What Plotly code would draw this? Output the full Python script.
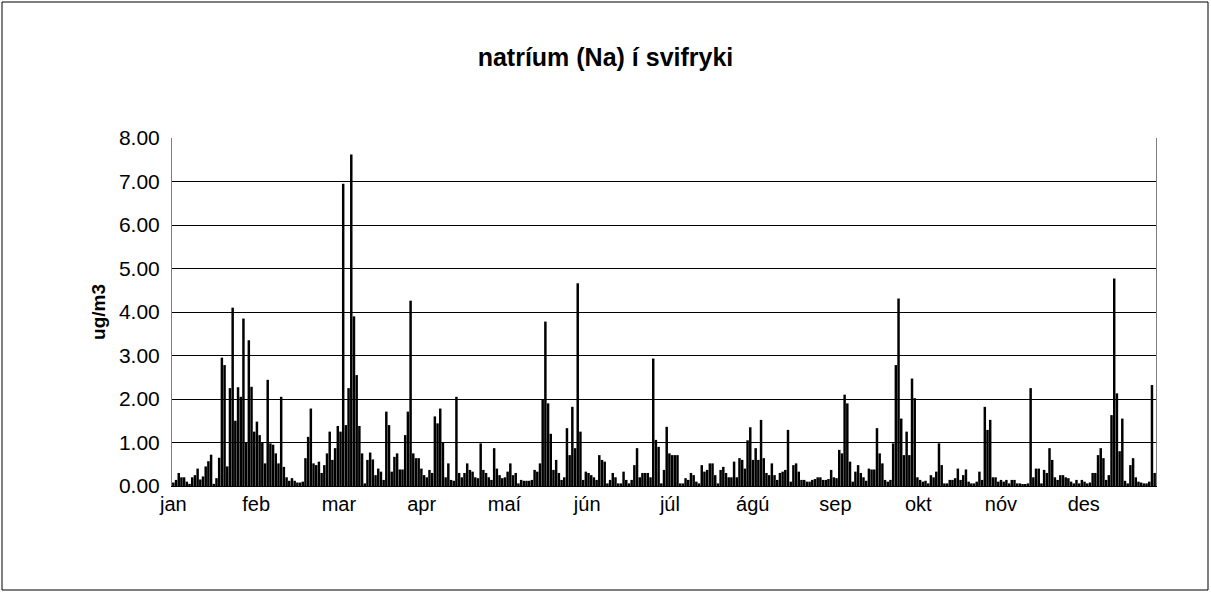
import plotly.graph_objects as go

# Daily Na concentration (ug/m3), one list per month
jan = [0.08, 0.14, 0.30, 0.20, 0.20, 0.10, 0.05, 0.20, 0.25, 0.40, 0.15, 0.22, 0.45, 0.57, 0.72, 0.05,
       0.18, 0.65, 2.95, 2.78, 0.45, 2.25, 4.10, 1.50, 2.27, 2.05, 3.85, 1.00, 3.35, 2.28, 1.25]
feb = [1.48, 1.17, 1.00, 0.52, 2.44, 0.98, 0.95, 0.75, 0.52, 2.05, 0.44, 0.20, 0.12, 0.18, 0.12, 0.08,
       0.08, 0.10, 0.64, 1.13, 1.78, 0.52, 0.48, 0.56, 0.30, 0.48, 0.75, 1.25]
mar = [0.60, 0.87, 1.38, 1.25, 6.95, 1.40, 2.25, 7.62, 3.90, 2.55, 1.38, 0.75, 0.06, 0.60, 0.77, 0.61,
       0.25, 0.40, 0.33, 0.14, 1.71, 1.40, 0.33, 0.67, 0.75, 0.38, 0.38, 1.17, 1.71, 4.26, 0.75]
apr = [0.64, 0.64, 0.40, 0.25, 0.20, 0.37, 0.30, 1.60, 1.44, 1.78, 1.00, 0.20, 0.52, 0.14, 0.12, 2.05,
       0.30, 0.20, 0.30, 0.52, 0.37, 0.33, 0.20, 0.18, 0.98, 0.37, 0.30, 0.20, 0.14, 0.87]
mai = [0.40, 0.25, 0.18, 0.20, 0.33, 0.52, 0.25, 0.30, 0.06, 0.14, 0.12, 0.12, 0.12, 0.14, 0.37, 0.33,
       0.52, 1.98, 3.78, 1.90, 1.20, 0.37, 0.60, 0.30, 0.14, 0.20, 1.33, 0.71, 1.82, 0.87, 4.66]
jun = [1.25, 0.14, 0.33, 0.30, 0.25, 0.20, 0.14, 0.71, 0.60, 0.56, 0.06, 0.14, 0.30, 0.20, 0.06, 0.06,
       0.33, 0.14, 0.06, 0.14, 0.48, 0.87, 0.20, 0.30, 0.30, 0.30, 0.20, 2.93, 1.06, 0.90]
jul = [0.06, 0.37, 1.36, 0.75, 0.71, 0.71, 0.71, 0.06, 0.06, 0.18, 0.14, 0.30, 0.25, 0.10, 0.06, 0.48,
       0.33, 0.37, 0.52, 0.52, 0.25, 0.06, 0.37, 0.44, 0.30, 0.20, 0.20, 0.56, 0.20, 0.64, 0.60]
agu = [0.40, 1.05, 1.35, 0.60, 0.87, 0.60, 1.52, 0.64, 0.30, 0.25, 0.52, 0.25, 0.14, 0.30, 0.33, 0.37,
       1.29, 0.10, 0.48, 0.52, 0.33, 0.14, 0.14, 0.10, 0.10, 0.14, 0.16, 0.20, 0.20, 0.14, 0.14]
sep = [0.16, 0.37, 0.20, 0.18, 0.83, 0.75, 2.10, 1.90, 0.56, 0.10, 0.33, 0.48, 0.30, 0.20, 0.12, 0.40,
       0.38, 0.38, 1.33, 0.75, 0.52, 0.14, 0.10, 0.14, 0.98, 2.78, 4.31, 1.55, 0.71, 1.25]
okt = [0.71, 2.47, 2.02, 0.20, 0.14, 0.10, 0.12, 0.06, 0.25, 0.20, 0.33, 0.98, 0.48, 0.06, 0.06, 0.14,
       0.14, 0.18, 0.40, 0.14, 0.25, 0.38, 0.10, 0.06, 0.06, 0.10, 0.33, 0.14, 1.82, 1.29, 1.52]
nov = [0.20, 0.20, 0.10, 0.14, 0.10, 0.14, 0.06, 0.14, 0.14, 0.06, 0.06, 0.04, 0.04, 0.06, 2.25, 0.20,
       0.40, 0.40, 0.06, 0.37, 0.30, 0.87, 0.60, 0.20, 0.14, 0.25, 0.25, 0.20, 0.18, 0.10]
des = [0.06, 0.14, 0.06, 0.14, 0.10, 0.06, 0.08, 0.30, 0.30, 0.71, 0.87, 0.64, 0.14, 0.25, 1.63, 4.77,
       2.13, 0.80, 1.55, 0.12, 0.06, 0.48, 0.64, 0.20, 0.10, 0.08, 0.06, 0.06, 0.10, 2.32, 0.30]

values = jan + feb + mar + apr + mai + jun + jul + agu + sep + okt + nov + des
days = list(range(len(values)))

month_labels = ['jan', 'feb', 'mar', 'apr', 'maí', 'jún', 'júl', 'ágú', 'sep', 'okt', 'nóv', 'des']
label_pos = [0, 30.7, 61.4, 92.1, 122.8, 153.5, 184.2, 214.9, 245.6, 276.3, 307.0, 337.7]

FONT = 'Arial, Liberation Sans, sans-serif'

fig = go.Figure()
fig.add_trace(go.Bar(
    x=days, y=values,
    marker_color='black',
    marker_line_width=0,
))

# plot area in pixels: 172..1156 x 138..486
W, H = 1211, 593
L, R, T, B = 172, 55, 138, 107
pw, ph = W - L - R, H - T - B

fig.update_layout(
    width=W, height=H,
    margin=dict(l=L, r=R, t=T, b=B),
    paper_bgcolor='white',
    plot_bgcolor='white',
    bargap=0.08,
    showlegend=False,
    font=dict(family=FONT, color='black', size=20),
    title=dict(
        text='<b>natríum (Na) í svifryki</b>',
        x=0.5, xref='container', xanchor='center',
        y=1 - 57 / H, yanchor='middle',
        font=dict(size=25),
    ),
    xaxis=dict(
        range=[-0.5, len(values) - 0.5],
        tickvals=label_pos,
        ticktext=month_labels,
        showgrid=False,
        zeroline=False,
        showline=True, linecolor='black', linewidth=1,
        ticks='', tickfont=dict(size=20),
    ),
    yaxis=dict(
        range=[0, 8],
        tickvals=[0, 1, 2, 3, 4, 5, 6, 7, 8],
        tickformat='.2f',
        showgrid=True, gridcolor='black', gridwidth=1,
        zeroline=False,
        showline=True, linecolor='#808080', linewidth=1, mirror=True,
        ticks='outside', ticklen=7, tickcolor='rgba(0,0,0,0)',
        tickfont=dict(size=21),
        title=dict(text='<b>ug/m3</b>', standoff=8, font=dict(size=19)),
    ),
)

# outer chart border
fig.add_shape(
    type='rect', xref='paper', yref='paper',
    x0=(2 - L) / pw, x1=(1208 - L) / pw,
    y0=(T + ph - 590) / ph, y1=(T + ph - 2) / ph,
    line=dict(color='black', width=1), fillcolor='rgba(0,0,0,0)',
)

# drop the default page margin so the figure sits at the window origin
fig.write_html('out.html', config={'displayModeBar': False},
               post_script="document.body.style.margin='0';")
